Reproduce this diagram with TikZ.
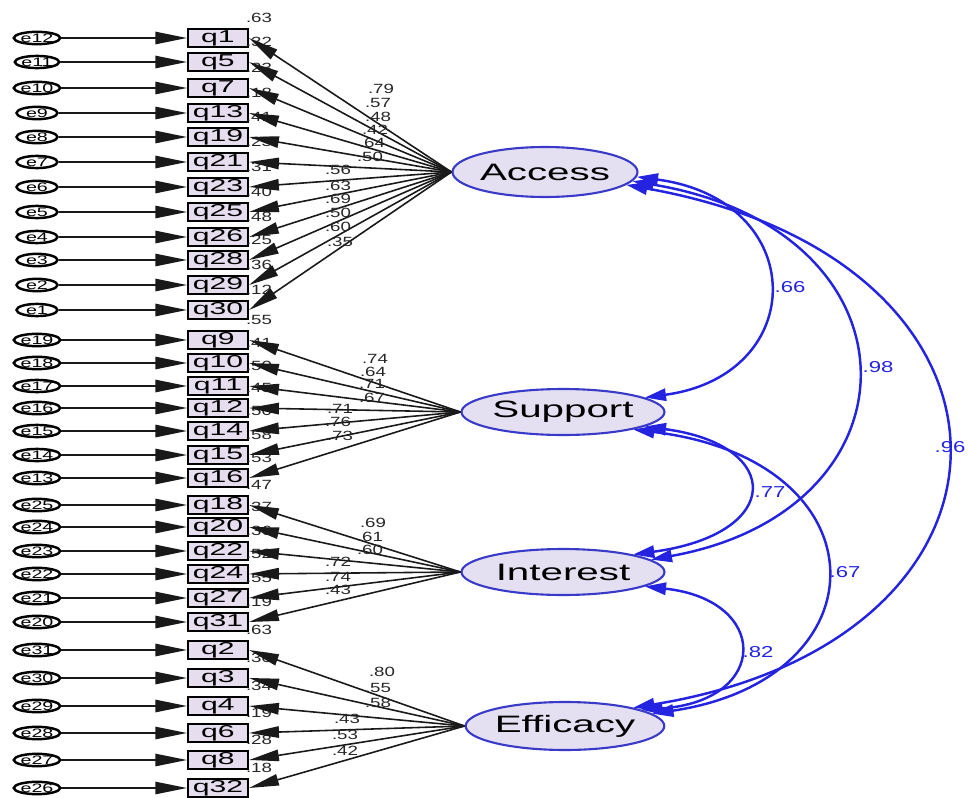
\documentclass[tikz,border=0pt]{standalone}
\usepackage{graphicx}
\usepackage{fontspec}
\setmainfont{Liberation Sans}
\usetikzlibrary{arrows.meta,shapes.geometric}
\definecolor{boxfill}{HTML}{E6DDEE}
\definecolor{latfill}{HTML}{E4E0F2}
\definecolor{latblue}{HTML}{3A3AC8}
\definecolor{covblue}{HTML}{2424E0}
% horizontally widened text, as AMOS prints it
\newcommand{\wtxt}[2]{\scalebox{#1}[1]{#2}}
\begin{document}
\begin{tikzpicture}[x=0.02cm,y=-0.02cm,
  obs/.style={draw=black,line width=1.2pt,fill=boxfill,minimum width=1.2cm,
    minimum height=0.37cm,inner sep=0pt,font=\fontsize{9.8}{10}\selectfont},
  err/.style={ellipse,draw=black,line width=1.4pt,minimum width=0.82cm,
    minimum height=0.23cm,inner sep=0pt,font=\fontsize{7}{7}\selectfont},
  lat/.style={ellipse,draw=latblue,line width=1.2pt,fill=latfill,inner sep=0pt,
    font=\fontsize{13.5}{14}\selectfont},
  load/.style={draw=black!90,line width=0.9pt,-{Triangle[length=17pt,width=6.5pt]}},
  erra/.style={draw=black!90,line width=1pt,-{Triangle[length=18pt,width=7pt]}},
  cov/.style={draw=covblue,line width=1.4pt,
    {Triangle[length=12pt,width=7pt]}-{Triangle[length=12pt,width=7pt]}},
  est/.style={font=\fontsize{7.6}{8}\selectfont,text=black!85,inner sep=0pt},
  covlab/.style={font=\fontsize{9}{9}\selectfont,text=covblue,inner sep=0pt},
]
\useasboundingbox (0,0) rectangle (968,798);

% latent factors
\node[lat,minimum width=3.7cm,minimum height=1.0cm] (A) at (545,172) {\wtxt{1.7}{Access}};
\node[lat,minimum width=4.06cm,minimum height=0.92cm] (S) at (563,412) {\wtxt{1.7}{Support}};
\node[lat,minimum width=4.06cm,minimum height=0.92cm] (I) at (563,572) {\wtxt{1.7}{Interest}};
\node[lat,minimum width=3.48cm,minimum height=0.96cm] (E) at (565,726) {\wtxt{1.7}{Efficacy}};

% observed items, their error terms and squared multiple correlations
\foreach \q/\y/\e/\r in {
  q1/38/e12/.63, q5/62/e11/.32, q7/88/e10/.23, q13/113/e9/.18, q19/137/e8/.41,
  q21/162/e7/.25, q23/187/e6/.31, q25/212/e5/.40, q26/237/e4/.48, q28/260/e3/.25,
  q29/285/e2/.36, q30/310/e1/.12,
  q9/340/e19/.55, q10/363/e18/.41, q11/386/e17/.50, q12/408/e16/.45,
  q14/431/e15/.50, q15/455/e14/.58, q16/478/e13/.53,
  q18/505/e25/.47, q20/527/e24/.37, q22/551/e23/.36, q24/574/e22/.52,
  q27/598/e21/.55, q31/622/e20/.19,
  q2/650/e31/.63, q3/678/e30/.30, q4/706/e29/.34, q6/733/e28/.19,
  q8/760/e27/.28, q32/788/e26/.18}{
  \node[obs] (\q) at (218,\y) {\wtxt{1.75}{\q}};
  \node[err] (\e) at (37,\y) {\wtxt{1.6}{\e}};
  \draw[erra] (\e) -- (\q);
  \node[est] (r\q) at (259,\y-20) {\wtxt{1.4}{\r}};
}

% factor loadings
\foreach \f/\q/\v/\lx/\ly in {
  A/q1/.79/381/89, A/q5/.57/378/103, A/q7/.48/378/117, A/q13/.42/375/130,
  A/q19/.64/372/143, A/q21/.50/370/157, A/q23/.56/338/170, A/q25/.63/338/186,
  A/q26/.69/338/199, A/q28/.50/338/213, A/q29/.60/338/227, A/q30/.35/340/242,
  S/q9/.74/375/359, S/q10/.64/373/372, S/q11/.71/372/384, S/q12/.67/372/398,
  S/q14/.71/340/409, S/q15/.76/338/422, S/q16/.73/340/436,
  I/q18/.69/373/523, I/q20/.61/370/537, I/q22/.60/370/550,
  I/q24/.72/338/562, I/q27/.74/338/577, I/q31/.43/338/590,
  E/q2/.80/382/672, E/q3/.55/378/688, E/q4/.58/378/703,
  E/q6/.43/347/719, E/q8/.53/345/735, E/q32/.42/345/751}{
  \draw[load] (\f.west) -- (\q.east);
  \node[est] (l\q) at (\lx,\ly) {\wtxt{1.4}{\v}};
}

% factor correlations
\draw[cov] (A.-3) .. controls (810,200) and (810,375) .. (S.10);
\draw[cov] (A.-6) .. controls (927,230) and (927,510) .. (I.8);
\draw[cov] (A.-9) .. controls (1051,260) and (1051,640) .. (E.15);
\draw[cov] (S.-10) .. controls (784,445) and (784,534) .. (I.14);
\draw[cov] (S.-14) .. controls (886,460) and (886,679) .. (E.8);
\draw[cov] (I.-10) .. controls (770,600) and (770,701) .. (E.12);
\node[covlab] (cAS) at (790,287) {\wtxt{1.4}{.66}};
\node[covlab] (cAI) at (878,367) {\wtxt{1.4}{.98}};
\node[covlab] (cAE) at (950,447) {\wtxt{1.4}{.96}};
\node[covlab] (cSI) at (770,492) {\wtxt{1.4}{.77}};
\node[covlab] (cSE) at (845,572) {\wtxt{1.4}{.67}};
\node[covlab] (cIE) at (758,652) {\wtxt{1.4}{.82}};
\end{tikzpicture}
\end{document}
